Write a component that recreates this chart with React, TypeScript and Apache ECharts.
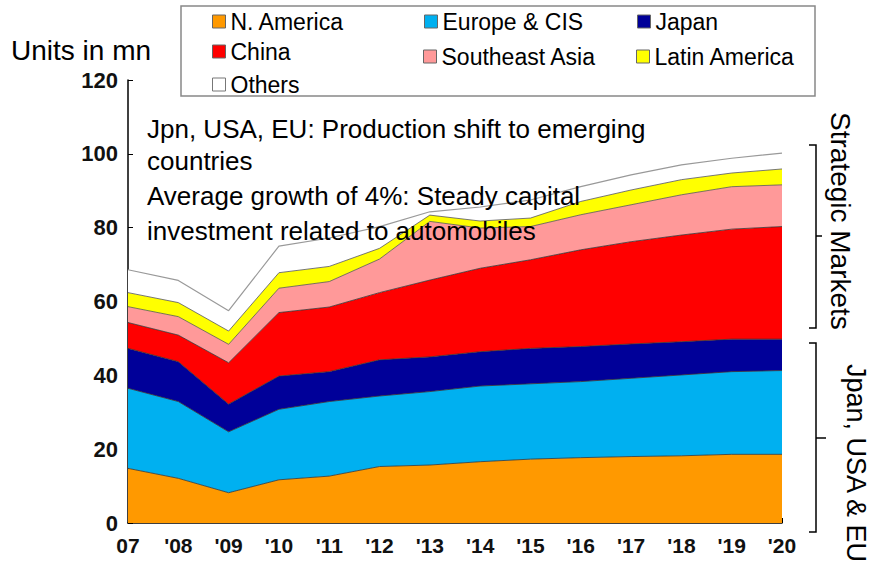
import React, { useEffect, useRef } from "react";
import * as echarts from "echarts";

const years = ["07", "'08", "'09", "'10", "'11", "'12", "'13", "'14", "'15", "'16", "'17", "'18", "'19", "'20"];

const nAmerica = [14.8, 12.1, 8.2, 11.7, 12.7, 15.3, 15.7, 16.6, 17.3, 17.7, 18.0, 18.2, 18.6, 18.6];
const europeCIS = [21.7, 20.8, 16.5, 19.1, 20.2, 19.1, 19.9, 20.5, 20.4, 20.6, 21.2, 21.9, 22.4, 22.7];
const japan = [10.8, 10.8, 7.5, 9.0, 8.1, 9.8, 9.4, 9.3, 9.6, 9.5, 9.3, 9.0, 8.8, 8.5];
const china = [7.0, 7.2, 11.2, 17.2, 17.5, 18.2, 20.8, 22.6, 24.0, 26.2, 27.7, 28.9, 29.8, 30.5];
const seAsia = [4.3, 5.0, 5.0, 6.6, 6.9, 9.1, 15.9, 10.9, 9.0, 9.5, 10.0, 10.9, 11.5, 11.3];
const latinAmerica = [3.8, 3.8, 3.6, 4.2, 4.1, 2.9, 1.7, 1.9, 2.3, 3.6, 4.0, 4.1, 3.7, 4.3];
const others = [6.2, 6.0, 5.5, 7.2, 7.7, 5.9, 0.9, 3.8, 4.9, 4.0, 4.1, 4.0, 4.0, 4.3];

const yTicks = { min: 0, max: 120, interval: 20 };

const annotationLines = [
  "Jpn, USA, EU: Production shift to emerging",
  "countries",
  "Average growth of 4%: Steady capital",
  "investment related to automobiles",
];

const FONT = "'Liberation Sans', Arial, sans-serif";

const seriesDefs = [
  { name: "N. America", data: nAmerica, color: "#FF9900", line: "#333" },
  { name: "Europe & CIS", data: europeCIS, color: "#00B0F0", line: "#333" },
  { name: "Japan", data: japan, color: "#000099", line: "#333" },
  { name: "China", data: china, color: "#FF0000", line: "#333" },
  { name: "Southeast Asia", data: seAsia, color: "#FF9999", line: "#555" },
  { name: "Latin America", data: latinAmerica, color: "#FFFF00", line: "#555" },
  { name: "Others", data: others, color: "#FFFFFF", line: "#999" },
];

const legendPos: Record<string, [number, number]> = {
  "N. America": [212, 10],
  "Europe & CIS": [424, 10],
  Japan: [637, 10],
  China: [212, 40],
  "Southeast Asia": [423, 45],
  "Latin America": [636, 45],
  Others: [212, 73],
};

export default function App() {
  const ref = useRef<HTMLDivElement>(null);
  useEffect(() => {
    if (!ref.current) return;
    const chart = echarts.init(ref.current, null, { renderer: "svg" });
    const option: any = {
      animation: false,
      backgroundColor: "#fff",
      textStyle: { fontFamily: FONT },
      grid: { left: 128, right: 91, top: 80, bottom: 45 },
      xAxis: {
        type: "category",
        data: years,
        boundaryGap: false,
        axisLine: { lineStyle: { color: "#000", width: 1.5 } },
        axisTick: { inside: true, length: 5, lineStyle: { color: "#000" } },
        axisLabel: { color: "#111", fontSize: 21, fontWeight: "bold", margin: 12, fontFamily: FONT },
        splitLine: { show: false },
      },
      yAxis: {
        type: "value",
        min: yTicks.min,
        max: yTicks.max,
        interval: yTicks.interval,
        axisLine: { show: true, lineStyle: { color: "#000", width: 1.5 } },
        axisTick: { show: true, inside: true, length: 5, lineStyle: { color: "#000" } },
        axisLabel: { color: "#111", fontSize: 22, fontWeight: "bold", margin: 10, fontFamily: FONT },
        splitLine: { show: false },
      },
      legend: seriesDefs.map((s) => ({
        left: legendPos[s.name][0],
        top: legendPos[s.name][1],
        padding: 0,
        icon: "rect",
        itemWidth: 13,
        itemHeight: 13,
        selectedMode: false,
        textStyle: { fontSize: 23, color: "#000", fontFamily: FONT },
        data: [
          {
            name: s.name,
            itemStyle: { color: s.color, borderColor: s.name === "Others" ? "#777" : "#666", borderWidth: 1 },
          },
        ],
      })),
      series: seriesDefs.map((s) => ({
        name: s.name,
        type: "line",
        stack: "total",
        data: s.data,
        symbol: "none",
        smooth: false,
        itemStyle: { color: s.color },
        lineStyle: { color: s.line, width: s.name === "Others" ? 1.2 : 0.8 },
        areaStyle: { color: s.color, opacity: 1 },
      })),
      graphic: [
        {
          type: "rect",
          shape: { x: 181, y: 6, width: 634, height: 90 },
          style: { fill: "none", stroke: "#888", lineWidth: 1.5 },
          z: -1,
        },
        {
          type: "text",
          x: 11,
          y: 50,
          style: { text: "Units in mn", fontSize: 28, fontFamily: FONT, fill: "#000", verticalAlign: "middle" },
        },
        ...annotationLines.map((t, i) => ({
          type: "text",
          x: 147,
          y: [129, 161, 196, 231][i],
          z: 100,
          style: { text: t, fontSize: 26, fontFamily: FONT, fill: "#000", verticalAlign: "middle" },
        })),
        {
          type: "polyline",
          shape: { points: [[809, 145], [816, 145], [816, 328], [809, 328]] },
          style: { stroke: "#000", lineWidth: 1.5, fill: "none" },
        },
        {
          type: "line",
          shape: { x1: 816, y1: 236, x2: 822, y2: 236 },
          style: { stroke: "#000", lineWidth: 1.5 },
        },
        {
          type: "polyline",
          shape: { points: [[809, 343], [816, 343], [816, 532], [809, 532]] },
          style: { stroke: "#000", lineWidth: 1.5, fill: "none" },
        },
        {
          type: "line",
          shape: { x1: 816, y1: 438, x2: 826, y2: 438 },
          style: { stroke: "#000", lineWidth: 1.5 },
        },
        {
          type: "text",
          x: 840,
          y: 112,
          rotation: -Math.PI / 2,
          style: { text: "Strategic Markets", fontSize: 28, fontFamily: FONT, fill: "#000", align: "left", verticalAlign: "middle" },
        },
        {
          type: "text",
          x: 856,
          y: 364,
          rotation: -Math.PI / 2,
          style: { text: "Jpan, USA & EU", fontSize: 27, fontFamily: FONT, fill: "#000", align: "left", verticalAlign: "middle" },
        },
      ],
    };
    chart.setOption(option);
    return () => chart.dispose();
  }, []);
  return (
    <div
      ref={ref}
      style={{ position: "absolute", left: 0, top: 0, width: 873, height: 568 }}
    />
  );
}
